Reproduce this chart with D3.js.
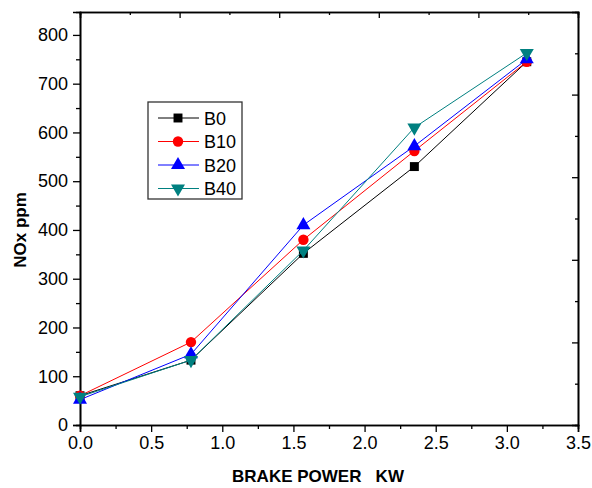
<!DOCTYPE html>
<html lang="en">
<head>
<meta charset="utf-8">
<title>NOx vs Brake Power</title>
<script src="https://d3js.org/d3.v7.min.js"></script>
<style>
	body { margin: 0; background: #fff; }
	svg text { font-family: "Liberation Sans", Arial, sans-serif; fill: #000; }
	.tick text { font-size: 18px; }
	.axis-title { font-size: 17px; font-weight: bold; }
	.legend text { font-size: 18px; }
</style>
</head>
<body>
<svg id="chart" width="592" height="488"></svg>
<script>
// data
var power = [0, 0.78, 1.57, 2.35, 3.14];
var seriesNames = ["B0", "B10", "B20", "B40"];
var B0  = [60, 133, 352, 530, 745];
var B10 = [60, 170, 380, 562, 745];
var B20 = [52, 145, 410, 572, 750];
var B40 = [58, 133, 358, 610, 763];
var xTicks = [0, 0.5, 1, 1.5, 2, 2.5, 3, 3.5];
var yTicks = [0, 100, 200, 300, 400, 500, 600, 700, 800];

var colors = ["#000000", "#ff0000", "#0000ff", "#008080"];
var symbols = [d3.symbolSquare, d3.symbolCircle, d3.symbolTriangle, "down"];
var values = [B0, B10, B20, B40];

var svg = d3.select("#chart"),
    pLeft = 80, pRight = 578, pTop = 12, pBottom = 425;

var x = d3.scaleLinear().domain([0, 3.5]).range([pLeft, pRight]);
var y = d3.scaleLinear().domain([0, 847]).range([pBottom, pTop]);

// mirror axes on top / right have their own 10-step ticks
var mx = d3.scaleLinear().domain([0, 1]).range([pLeft, pRight]);
var my = d3.scaleLinear().domain([0, 1]).range([pBottom, pTop]);

// bottom axis
svg.append("g").attr("transform", "translate(0," + pBottom + ")")
    .call(d3.axisBottom(x).tickValues(xTicks).tickFormat(d3.format(".1f")).tickSize(7).tickPadding(4));
svg.append("g").attr("transform", "translate(0," + pBottom + ")")
    .call(d3.axisBottom(x).tickValues(d3.range(0.25, 3.5, 0.5)).tickFormat("").tickSize(4));

// left axis
svg.append("g").attr("transform", "translate(" + pLeft + ",0)")
    .call(d3.axisLeft(y).tickValues(yTicks).tickSize(7).tickPadding(5));
svg.append("g").attr("transform", "translate(" + pLeft + ",0)")
    .call(d3.axisLeft(y).tickValues(d3.range(50, 847, 100)).tickFormat("").tickSize(4));

// top axis (inward ticks)
svg.append("g").attr("transform", "translate(0," + pTop + ")")
    .call(d3.axisTop(mx).tickValues([0.2, 0.4, 0.6, 0.8]).tickFormat("").tickSize(-6));
svg.append("g").attr("transform", "translate(0," + pTop + ")")
    .call(d3.axisTop(mx).tickValues([0.1, 0.3, 0.5, 0.7, 0.9]).tickFormat("").tickSize(-3));

// right axis (inward ticks)
svg.append("g").attr("transform", "translate(" + pRight + ",0)")
    .call(d3.axisRight(my).tickValues([0.2, 0.4, 0.6, 0.8]).tickFormat("").tickSize(-6));
svg.append("g").attr("transform", "translate(" + pRight + ",0)")
    .call(d3.axisRight(my).tickValues([0.1, 0.3, 0.5, 0.7, 0.9]).tickFormat("").tickSize(-3));

svg.selectAll(".domain").attr("stroke", "#000").attr("stroke-width", 1.6);
svg.selectAll(".tick line").attr("stroke", "#000").attr("stroke-width", 1.3);

function marker(i, size) {
	if (symbols[i] === "down") {
		return d3.symbol().type(d3.symbolTriangle).size(size)();
	}
	return d3.symbol().type(symbols[i]).size(size)();
}
var sizes = [80, 85, 85, 85];

var line = d3.line()
    .x(function(d, i) { return x(power[i]); })
    .y(function(d) { return y(d); });

values.forEach(function(vals, i) {
	var g = svg.append("g");
	g.append("path")
	    .datum(vals)
	    .attr("fill", "none")
	    .attr("stroke", colors[i])
	    .attr("stroke-width", 1)
	    .attr("d", line);
	g.selectAll("path.pt")
	    .data(vals)
	    .enter().append("path")
	    .attr("class", "pt")
	    .attr("d", marker(i, sizes[i]))
	    .attr("fill", colors[i])
	    .attr("transform", function(d, j) {
		    var t = "translate(" + x(power[j]) + "," + y(d) + ")";
		    return symbols[i] === "down" ? t + " rotate(180)" : t;
	    });
});

// legend
var legend = svg.append("g").attr("class", "legend");
legend.append("rect")
    .attr("x", 148).attr("y", 102).attr("width", 94).attr("height", 97)
    .attr("fill", "#fff").attr("stroke", "#333").attr("stroke-width", 1.3);
seriesNames.forEach(function(name, i) {
	var ly = 118 + i * 23.5;
	legend.append("line")
	    .attr("x1", 158).attr("x2", 199).attr("y1", ly).attr("y2", ly)
	    .attr("stroke", colors[i]).attr("stroke-width", 1);
	legend.append("path")
	    .attr("d", marker(i, sizes[i]))
	    .attr("fill", colors[i])
	    .attr("transform", "translate(178," + ly + ")" + (symbols[i] === "down" ? " rotate(180)" : ""));
	legend.append("text")
	    .attr("x", 204).attr("y", ly + 6.5)
	    .text(name);
});

// axis titles
svg.append("text")
    .attr("class", "axis-title")
    .attr("x", 318).attr("y", 482)
    .attr("text-anchor", "middle")
    .attr("xml:space", "preserve")
    .text("BRAKE POWER   KW");

svg.append("text")
    .attr("class", "axis-title")
    .attr("transform", "translate(26,230) rotate(-90)")
    .attr("text-anchor", "middle")
    .text("NOx ppm");
</script>
</body>
</html>
